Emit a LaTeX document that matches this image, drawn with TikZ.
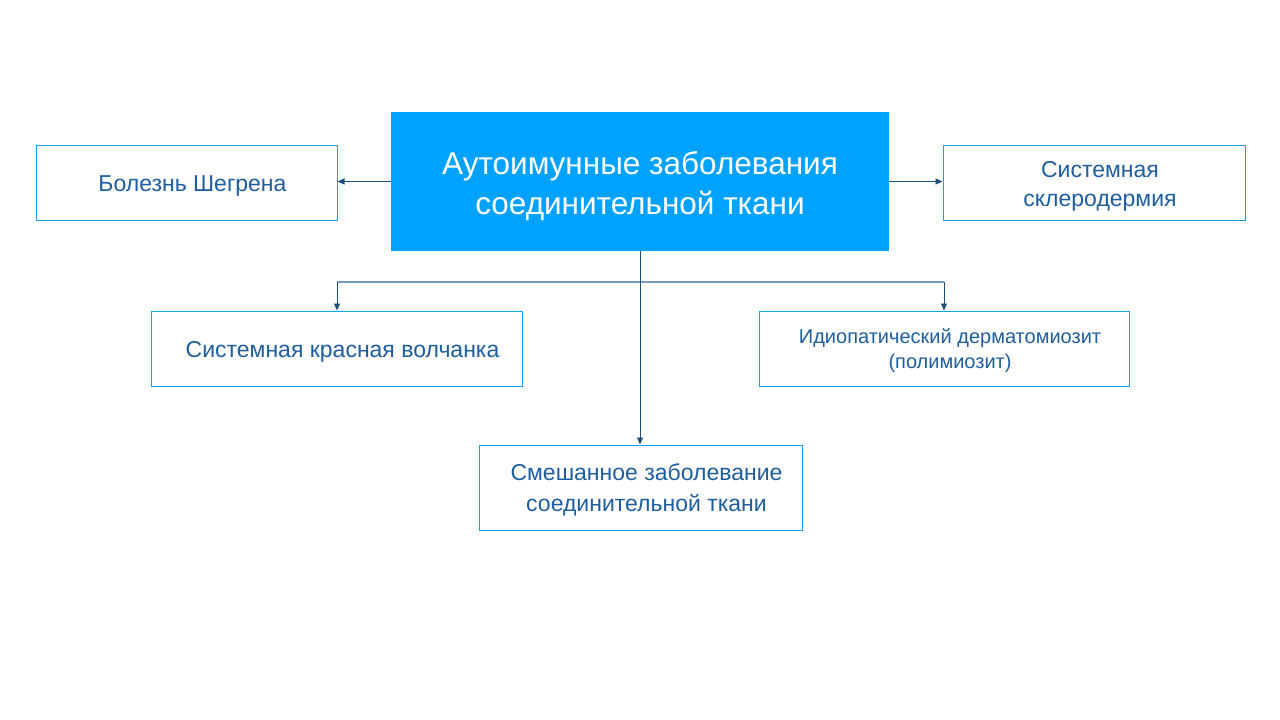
\documentclass[tikz,border=0pt]{standalone}
\usepackage{fontspec}
\setmainfont{Liberation Sans}
\usetikzlibrary{arrows.meta}
\definecolor{mainblue}{RGB}{0,162,255}
\definecolor{boxline}{RGB}{20,160,240}
\definecolor{txtblue}{RGB}{31,94,158}
\definecolor{arrowc}{RGB}{31,78,121}
\definecolor{hline}{RGB}{120,155,190}
\newcommand{\stt}{\rule{0pt}{1em}}
\tikzset{
  leaf/.style={draw=boxline, line width=1pt, fill=white, inner sep=0pt, text=txtblue, align=center, font=\fontsize{23}{29}\selectfont},
  conn/.style={draw=arrowc, line width=0.9pt, -{Triangle[length=7pt,width=6pt]}},
}
\begin{document}
\begin{tikzpicture}[x=1pt,y=-1pt]
\useasboundingbox (0,0) rectangle (1280,720);
\node[fill=mainblue, minimum width=498pt, minimum height=139pt, inner sep=0pt, text=white, align=center, font=\fontsize{31.5}{40}\selectfont] (c) at (640,181.5) {\rule{0pt}{1.05em}Аутоимунные заболевания\\соединительной ткани};
\node[leaf, minimum width=301pt, minimum height=75pt] (b1) at (186.5,182.5) {\hspace{12pt}\stt Болезнь Шегрена};
\node[leaf, minimum width=302pt, minimum height=75pt] (b2) at (1094,182.5) {\hspace{12pt}\stt Системная\\\hspace{12pt}склеродермия};
\node[leaf, minimum width=371pt, minimum height=75pt] (b3) at (336.5,348.5) {\hspace{12pt}\stt Системная красная волчанка};
\node[leaf, minimum width=370pt, minimum height=75pt, font=\fontsize{20}{25}\selectfont] (b4) at (944,348.5) {\hspace{12pt}\stt Идиопатический дерматомиозит\\\hspace{12pt}(полимиозит)};
\node[leaf, minimum width=323pt, minimum height=85pt, font=\fontsize{23}{31}\selectfont] (b5) at (640.5,487.5) {\hspace{12pt}\rule{0pt}{0.9em}Смешанное заболевание\\\hspace{12pt}соединительной ткани};
\coordinate (jl) at (337,282);
\coordinate (jr) at (944,282);
\draw[hline, line width=1.2pt] (jl) -- (jr);
\draw[conn] (c.west) -- (c.west -| b1.east);
\draw[conn] (c.east) -- (c.east -| b2.west);
\draw[conn] (c.south) -- (c.south |- b5.north);
\draw[conn] (jl) -- (jl |- b3.north);
\draw[conn] (jr) -- (jr |- b4.north);
\end{tikzpicture}
\end{document}
